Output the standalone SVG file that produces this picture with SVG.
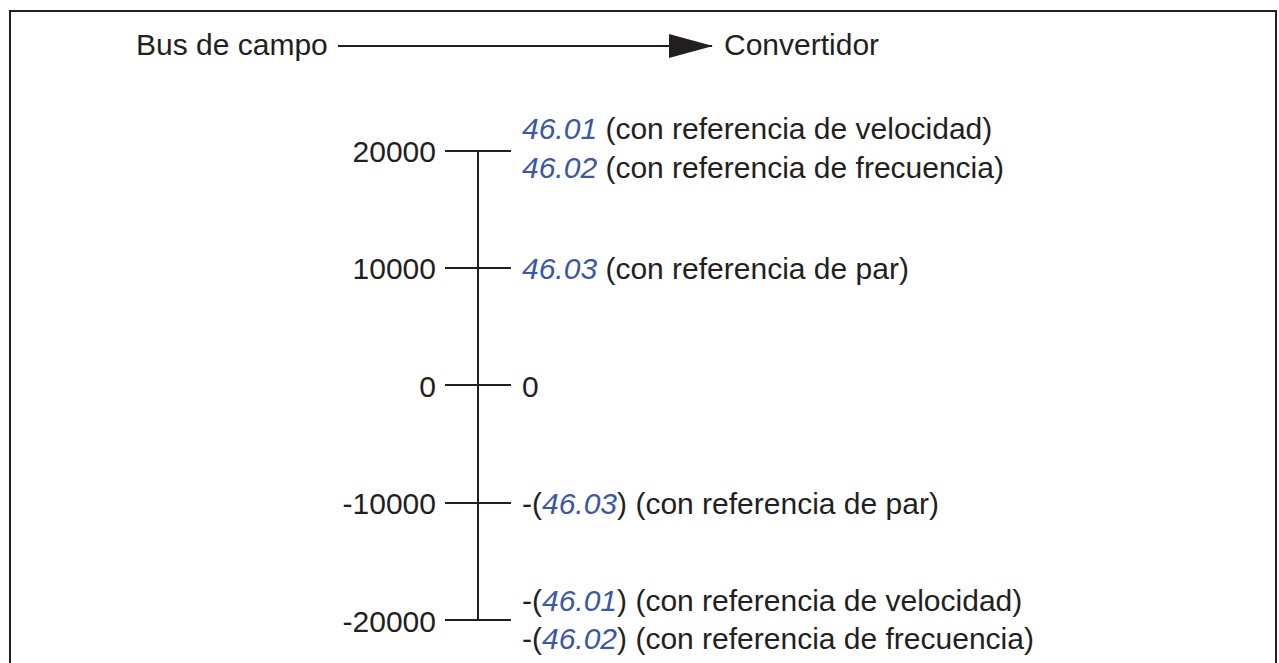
<svg xmlns="http://www.w3.org/2000/svg" width="1279" height="663" viewBox="0 0 1279 663">
<style>
text{font-family:"Liberation Sans",Arial,sans-serif;font-size:30px;fill:#231f20}
.p{fill:#3b57a6;font-style:italic}
.r{text-anchor:end}
.ln{stroke:#231f20;stroke-width:2;fill:none}
</style>
<defs>
<marker id="ah" markerWidth="44" markerHeight="24" refX="43" refY="12" markerUnits="userSpaceOnUse" orient="auto">
<path d="M0,0 L44,12 L0,24 Z" fill="#231f20"/>
</marker>
</defs>
<rect x="0" y="0" width="1279" height="663" fill="#fff"/>
<path class="ln" d="M10,670 V11 H1276 V670" stroke-width="2.5"/>
<g id="bus"><text x="136" y="55">Bus de campo</text></g>
<g id="conv"><text x="724" y="55">Convertidor</text></g>
<g id="connectors">
<line class="ln" x1="338" y1="46" x2="712" y2="46" marker-end="url(#ah)"/>
<line class="ln" x1="478" y1="150" x2="478" y2="621"/>
<line class="ln" x1="445" y1="151" x2="511" y2="151"/>
<line class="ln" x1="445" y1="268" x2="511" y2="268"/>
<line class="ln" x1="445" y1="385" x2="511" y2="385"/>
<line class="ln" x1="445" y1="503" x2="511" y2="503"/>
<line class="ln" x1="445" y1="620" x2="511" y2="620"/>
</g>
<g id="left">
<text class="r" x="436" y="162">20000</text>
<text class="r" x="436" y="279">10000</text>
<text class="r" x="436" y="397">0</text>
<text class="r" x="436" y="514">-10000</text>
<text class="r" x="436" y="632">-20000</text>
</g>
<g id="right">
<text x="522" y="139"><tspan class="p">46.01</tspan> (con referencia de velocidad)</text>
<text x="522" y="178"><tspan class="p">46.02</tspan> (con referencia de frecuencia)</text>
<text x="522" y="279"><tspan class="p">46.03</tspan> (con referencia de par)</text>
<text x="522" y="397">0</text>
<text x="522" y="514">-(<tspan class="p">46.03</tspan>) (con referencia de par)</text>
<text x="522" y="611">-(<tspan class="p">46.01</tspan>) (con referencia de velocidad)</text>
<text x="522" y="649">-(<tspan class="p">46.02</tspan>) (con referencia de frecuencia)</text>
</g>
</svg>
